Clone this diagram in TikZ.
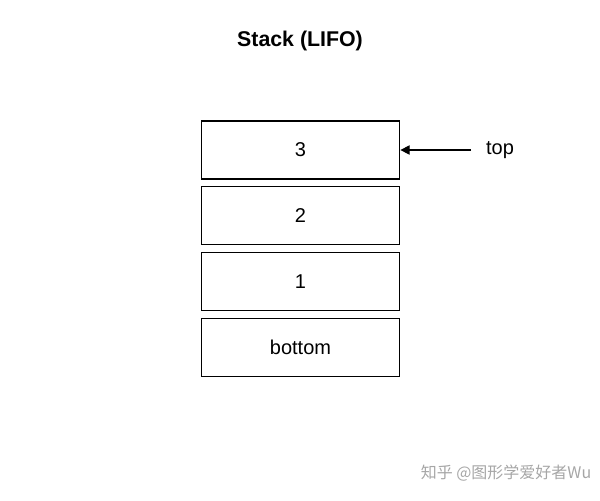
\documentclass[tikz,border=0pt]{standalone}
\usepackage{fontspec}
\setmainfont{Liberation Sans}
\newfontfamily\cjk{Noto Sans CJK SC}
\usetikzlibrary{positioning,arrows.meta}
\tikzset{
  cell/.style={draw, thick, minimum width=149pt, minimum height=43.5pt, inner sep=0pt, font=\fontsize{15}{18}\selectfont},
  label/.style={font=\fontsize{15}{18}\selectfont},
  pointer/.style={-{Triangle[length=7pt,width=7pt]}, thick}
}
\begin{document}
\begin{tikzpicture}[x=0.75pt,y=-0.75pt]
  \useasboundingbox (0,0) rectangle (600,500);
  % title
  \node [font=\bfseries\fontsize{16}{19}\selectfont] (title) at (300,41) {Stack (LIFO)};
  % stack cells, top to bottom
  \node [cell] (c3) at (300.5,150) {3};
  \node [cell, below=5pt of c3] (c2) {2};
  \node [cell, below=5pt of c2] (c1) {1};
  \node [cell, below=5pt of c1] (cb) {bottom};
  % top pointer
  \node [label] (top) at (500,150) {top};
  \coordinate (ptr) at (471,150);
  \draw [pointer] (ptr) -- (c3.east);
  % watermark
  \node [font=\cjk\fontsize{12}{14}\selectfont, text=black!35] (mark) at (506,473) {知乎 @图形学爱好者Wu};
\end{tikzpicture}
\end{document}
